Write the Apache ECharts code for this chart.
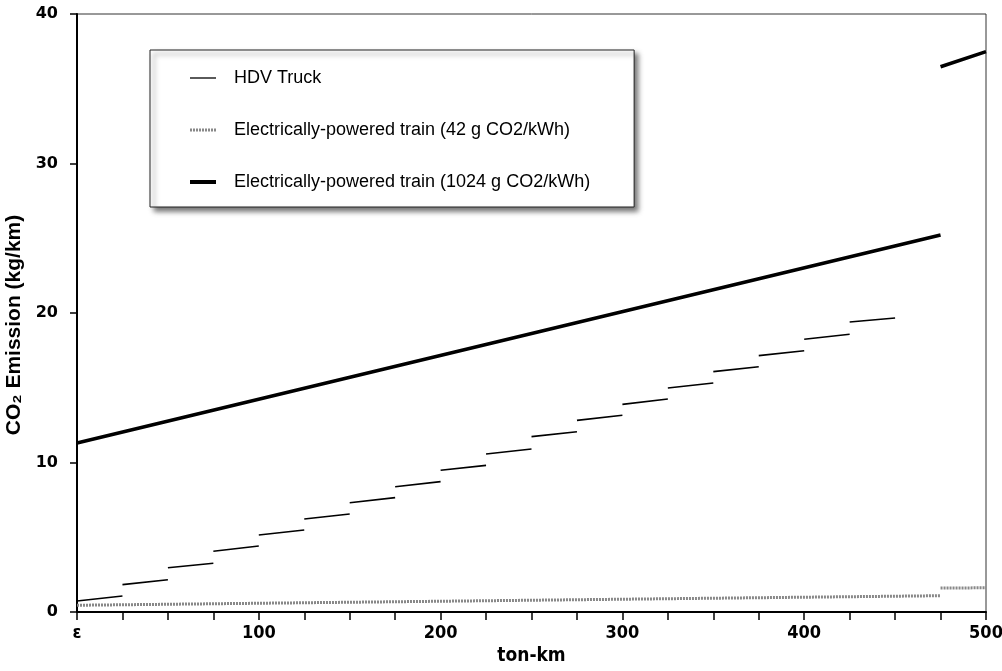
<!DOCTYPE html>
<html><head><meta charset="utf-8">
<script src="https://cdn.jsdelivr.net/npm/echarts@6/dist/echarts.min.js"></script>
<style>html,body{margin:0;padding:0;background:#fff}#c{width:1002px;height:671px}</style>
</head><body><div id="c"></div>
<script>
const seriesNames = ['HDV Truck', 'Electrically-powered train (42 g CO2/kWh)', 'Electrically-powered train (1024 g CO2/kWh)'];

// HDV Truck: one segment per 25 ton-km step
const truckX0 = [0, 25, 50, 75, 100, 125, 150, 175, 200, 225, 250, 275, 300, 325, 350, 375, 400, 425];
const truckX1 = [25, 50, 75, 100, 125, 150, 175, 200, 225, 250, 275, 300, 325, 350, 375, 400, 425, 450];
const truckStart = [0.74, 1.83, 2.96, 4.06, 5.15, 6.22, 7.31, 8.38, 9.48, 10.57, 11.73, 12.82, 13.89, 14.98, 16.08, 17.15, 18.24, 19.40];
const truckEnd   = [1.07, 2.16, 3.26, 4.41, 5.48, 6.55, 7.65, 8.72, 9.81, 10.90, 12.06, 13.16, 14.25, 15.32, 16.41, 17.48, 18.58, 19.67];

// Electric train 42 g CO2/kWh
const train42X0 = [0, 475];
const train42X1 = [475, 500];
const train42Start = [0.45, 1.60];
const train42End = [1.09, 1.62];

// Electric train 1024 g CO2/kWh
const train1024X0 = [0, 475];
const train1024X1 = [475, 500];
const train1024Start = [11.30, 36.47];
const train1024End = [25.22, 37.48];

const xLabelValues = [0, 100, 200, 300, 400, 500];
const xLabelTexts = ['ε', '100', '200', '300', '400', '500'];
const yLabelValues = [0, 10, 20, 30, 40];

function segData(x0, x1, y0, y1) {
  const d = [];
  for (let i = 0; i < x0.length; i++) {
    if (i > 0) d.push([x0[i], '-']);
    d.push([x0[i], y0[i]]);
    d.push([x1[i], y1[i]]);
  }
  return d;
}

const chart = echarts.init(document.getElementById('c'), null, {renderer: 'canvas'});
chart.setOption({
  animation: false,
  backgroundColor: '#fff',
  grid: {left: 77, right: 16, top: 14, bottom: 59, outerBoundsMode: 'none', containLabel: false,
         show: true, borderColor: '#333', borderWidth: 1, backgroundColor: 'transparent'},
  legend: {
    orient: 'vertical', left: 150, top: 50,
    padding: [19, 44, 16, 38],
    itemGap: 34, itemWidth: 26, itemHeight: 14,
    backgroundColor: '#fff', borderColor: '#222', borderWidth: 1,
    shadowColor: 'rgba(0,0,0,0.55)', shadowBlur: 5, shadowOffsetX: 4, shadowOffsetY: 4,
    itemStyle: {opacity: 0},
    lineStyle: {width: 'inherit'},
    textStyle: {fontFamily: '"Liberation Sans", Arial, sans-serif', fontSize: 18, color: '#000', padding: [0, 0, 0, 13]},
    data: [
      {name: seriesNames[0], lineStyle: {width: 1.3, color: '#000'}},
      {name: seriesNames[1], lineStyle: {width: 3}},
      {name: seriesNames[2], lineStyle: {width: 4}}
    ]
  },
  xAxis: {
    type: 'value', min: 0, max: 500, interval: 25,
    name: 'ton-km', nameLocation: 'middle', nameGap: 35,
    nameTextStyle: {fontFamily: '"Liberation Sans Narrow", "DejaVu Sans Condensed", sans-serif', fontWeight: 'bold', fontSize: 19, color: '#000'},
    axisLine: {show: true, lineStyle: {color: '#000', width: 2}},
    axisTick: {show: true, inside: false, length: 8, lineStyle: {color: '#000', width: 1.5}},
    axisLabel: {
      margin: 12, color: '#000', fontWeight: 'bold', fontSize: 18,
      fontFamily: '"Liberation Sans Narrow", "DejaVu Sans Condensed", sans-serif',
      formatter: v => { const i = xLabelValues.indexOf(v); return i >= 0 ? xLabelTexts[i] : ''; }
    },
    splitLine: {show: false}
  },
  yAxis: {
    type: 'value', min: 0, max: 40, interval: 10,
    name: 'CO₂ Emission (kg/km)', nameLocation: 'middle', nameGap: 40, nameRotate: 90,
    nameTextStyle: {fontFamily: '"Liberation Sans", Arial, sans-serif', fontWeight: 'bold', fontSize: 21, color: '#000', padding: [0, 24, 0, 0]},
    axisLine: {show: true, lineStyle: {color: '#000', width: 2}},
    axisTick: {show: true, inside: false, length: 7, lineStyle: {color: '#000', width: 1.5}},
    axisLabel: {
      margin: 19, color: '#000', fontWeight: 'bold', fontSize: 16,
      fontFamily: '"DejaVu Sans", Verdana, sans-serif',
      formatter: v => yLabelValues.indexOf(v) >= 0 ? String(v) : ''
    },
    splitLine: {show: false}
  },
  series: [
    {name: seriesNames[0], type: 'line', symbol: 'none', connectNulls: false,
     lineStyle: {color: '#000', width: 1.6}, itemStyle: {color: '#000'},
     data: segData(truckX0, truckX1, truckStart, truckEnd)},
    {name: seriesNames[1], type: 'line', symbol: 'none', connectNulls: false,
     lineStyle: {color: '#888', width: 3, type: [2, 1]}, itemStyle: {color: '#888'},
     data: segData(train42X0, train42X1, train42Start, train42End)},
    {name: seriesNames[2], type: 'line', symbol: 'none', connectNulls: false,
     lineStyle: {color: '#000', width: 3.5}, itemStyle: {color: '#000'},
     data: segData(train1024X0, train1024X1, train1024Start, train1024End)}
  ]
});
</script>
</body></html>
